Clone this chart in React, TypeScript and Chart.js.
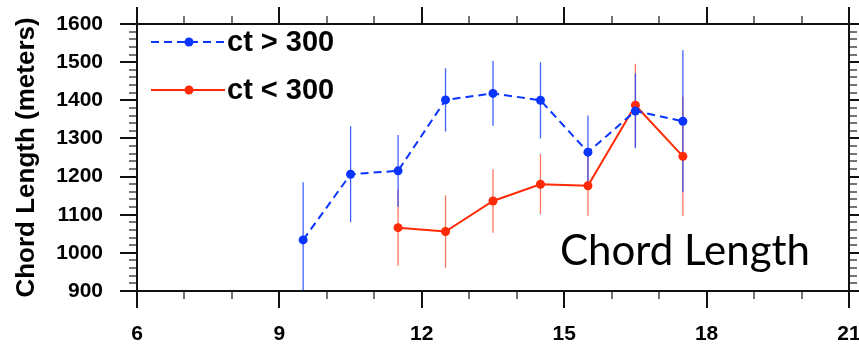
import React, { useEffect, useRef } from "react";
import { Chart, registerables } from "chart.js";

Chart.register(...registerables);

// Hour bins (local time) and mean chord lengths with their spread
const hoursHigh = [9.5, 10.5, 11.5, 12.5, 13.5, 14.5, 15.5, 16.5, 17.5];
const chordHigh = [1034, 1206, 1215, 1401, 1418, 1400, 1264, 1372, 1345];
const errHigh = [151, 126, 94, 83, 85, 100, 96, 98, 186];

const hoursLow = [11.5, 12.5, 13.5, 14.5, 15.5, 16.5, 17.5];
const chordLow = [1066, 1056, 1136, 1180, 1176, 1387, 1253];
const errLow = [100, 95, 83, 79, 79, 109, 156];

const seriesLabels = ["ct > 300", "ct < 300"];

// Axis ranges and tick spacing
const xMin = 6;
const xMax = 21;
const xMajorStep = 3;
const xMinorStep = 1;
const yMin = 900;
const yMax = 1600;
const yMajorStep = 100;
const yMinorStep = 20;

const yTitle = "Chord Length (meters)";
const panelLabel = "Chord Length";

const BLUE = "#0a35ff";
const RED = "#ff2a06";
const HELV = "'Liberation Sans', Arial, Helvetica, sans-serif";

const toPoints = (xs: number[], ys: number[]) => xs.map((x, i) => ({ x, y: ys[i] }));

// Vertical error bars drawn under the lines, clipped to the plot box
const errorBarsPlugin = {
  id: "errorBars",
  beforeDatasetsDraw(chart: any) {
    const { ctx, chartArea, scales } = chart;
    const xs = scales.x;
    const ys = scales.y;
    ctx.save();
    ctx.beginPath();
    ctx.rect(chartArea.left, chartArea.top, chartArea.right - chartArea.left, chartArea.bottom - chartArea.top);
    ctx.clip();
    for (let i = chart.data.datasets.length - 1; i >= 0; i--) {
      const ds = chart.data.datasets[i];
      ctx.strokeStyle = ds.errorColor;
      ctx.lineWidth = 1.3;
      ctx.beginPath();
      ds.data.forEach((p: any, j: number) => {
        const e = ds.errors[j];
        const px = xs.getPixelForValue(p.x);
        ctx.moveTo(px, ys.getPixelForValue(p.y - e));
        ctx.lineTo(px, ys.getPixelForValue(p.y + e));
      });
      ctx.stroke();
    }
    ctx.restore();
  },
};

// Closed frame with outward major/minor tick marks on all four sides
const frameTicksPlugin = {
  id: "frameTicks",
  afterDraw(chart: any) {
    const { ctx, chartArea, scales } = chart;
    const { left, right, top, bottom } = chartArea;
    const xs = scales.x;
    const ys = scales.y;
    const majorLen = 17;
    const minorLen = 8;
    ctx.save();
    const tick = (x1: number, y1: number, x2: number, y2: number, major: boolean) => {
      ctx.strokeStyle = major ? "#111" : "#3a3a3a";
      ctx.lineWidth = major ? 2 : 1.4;
      ctx.beginPath();
      ctx.moveTo(x1, y1);
      ctx.lineTo(x2, y2);
      ctx.stroke();
    };
    for (let v = xMin; v <= xMax + 1e-9; v += xMinorStep) {
      const major = Math.abs((v - xMin) % xMajorStep) < 1e-9;
      const len = major ? majorLen : minorLen;
      const px = Math.round(xs.getPixelForValue(v));
      tick(px, bottom, px, bottom + len, major);
      tick(px, top, px, top - len, major);
    }
    for (let v = yMin; v <= yMax + 1e-9; v += yMinorStep) {
      const major = Math.abs((v - yMin) % yMajorStep) < 1e-9;
      const len = major ? majorLen : minorLen;
      const py = Math.round(ys.getPixelForValue(v));
      tick(left, py, left - len, py, major);
      tick(right, py, right + len, py, major);
    }
    ctx.strokeStyle = "#111";
    ctx.lineWidth = 2;
    ctx.strokeRect(left, top, right - left, bottom - top);
    ctx.restore();
  },
};

// Line-and-marker legend placed inside the top-left corner of the plot
const lineLegendPlugin = {
  id: "lineLegend",
  afterDraw(chart: any) {
    const { ctx, chartArea } = chart;
    ctx.save();
    chart.data.datasets.forEach((ds: any, i: number) => {
      const y = chartArea.top + 18 + i * 48;
      const x0 = chartArea.left + 14;
      const x1 = chartArea.left + 88;
      ctx.strokeStyle = ds.borderColor;
      ctx.lineWidth = 2;
      ctx.setLineDash(ds.borderDash || []);
      ctx.beginPath();
      ctx.moveTo(x0, y);
      ctx.lineTo(x1, y);
      ctx.stroke();
      ctx.setLineDash([]);
      ctx.fillStyle = ds.pointBackgroundColor;
      ctx.beginPath();
      ctx.arc(chartArea.left + 52, y, 4.5, 0, Math.PI * 2);
      ctx.fill();
      ctx.fillStyle = "#000";
      ctx.font = `bold 29px ${HELV}`;
      ctx.textAlign = "left";
      ctx.textBaseline = "middle";
      ctx.fillText(ds.label, x1 + 2, y + 1);
    });
    ctx.restore();
  },
};

// Panel caption in the lower-right part of the plot
const panelLabelPlugin = {
  id: "panelLabel",
  afterDraw(chart: any) {
    const { ctx, chartArea } = chart;
    ctx.save();
    ctx.fillStyle = "#000";
    ctx.font = "42px Lato, 'Open Sans', sans-serif";
    ctx.textAlign = "left";
    ctx.textBaseline = "alphabetic";
    ctx.fillText(panelLabel, chartArea.left + 423, chartArea.bottom - 26);
    ctx.restore();
  },
};

const plainNumber = (v: any) => String(v);

export default function App() {
  const canvasRef = useRef<HTMLCanvasElement | null>(null);

  useEffect(() => {
    const canvas = canvasRef.current;
    if (!canvas) return;
    const chart = new Chart(canvas, {
      type: "line",
      data: {
        datasets: [
          {
            label: seriesLabels[0],
            data: toPoints(hoursHigh, chordHigh),
            borderColor: BLUE,
            backgroundColor: BLUE,
            pointBackgroundColor: BLUE,
            pointBorderWidth: 0,
            pointRadius: 4.5,
            borderWidth: 2,
            borderDash: [8, 5],
            tension: 0,
            clip: false,
            errors: errHigh,
            errorColor: "rgba(20, 60, 255, 0.8)",
          } as any,
          {
            label: seriesLabels[1],
            data: toPoints(hoursLow, chordLow),
            borderColor: RED,
            backgroundColor: RED,
            pointBackgroundColor: RED,
            pointBorderWidth: 0,
            pointRadius: 4.5,
            borderWidth: 2,
            tension: 0,
            clip: false,
            errors: errLow,
            errorColor: "rgba(255, 60, 30, 0.7)",
          } as any,
        ],
      },
      options: {
        animation: false,
        responsive: false,
        devicePixelRatio: 1,
        layout: { padding: { top: 24, right: 10, bottom: 0, left: 0 } },
        plugins: {
          legend: { display: false },
          tooltip: { enabled: false },
        },
        scales: {
          x: {
            type: "linear",
            min: xMin,
            max: xMax,
            grid: { display: false, drawTicks: false },
            border: { display: false },
            ticks: {
              stepSize: xMajorStep,
              autoSkip: false,
              maxRotation: 0,
              padding: 31,
              color: "#000",
              callback: plainNumber,
              font: { family: HELV, size: 21, weight: "bold" },
            },
            afterFit: (s: any) => {
              s.height = 55;
              s.paddingLeft = 0;
              s.paddingRight = 0;
            },
          },
          y: {
            type: "linear",
            min: yMin,
            max: yMax,
            grid: { display: false, drawTicks: false },
            border: { display: false },
            ticks: {
              stepSize: yMajorStep,
              padding: 34,
              color: "#000",
              callback: plainNumber,
              font: { family: HELV, size: 21, weight: "bold" },
            },
            title: {
              display: true,
              text: yTitle,
              color: "#000",
              font: { family: HELV, size: 26, weight: "bold" },
              padding: { top: 11, bottom: 0 },
            },
            afterFit: (s: any) => {
              s.width = 137;
              s.paddingTop = 0;
              s.paddingBottom = 0;
            },
          },
        } as any,
      },
      plugins: [errorBarsPlugin, frameTicksPlugin, lineLegendPlugin, panelLabelPlugin],
    });
    return () => chart.destroy();
  }, []);

  return (
    <div style={{ position: "absolute", left: 0, top: 0, width: 859, height: 346, background: "#fff" }}>
      <canvas ref={canvasRef} width={859} height={346} style={{ display: "block" }} />
    </div>
  );
}
